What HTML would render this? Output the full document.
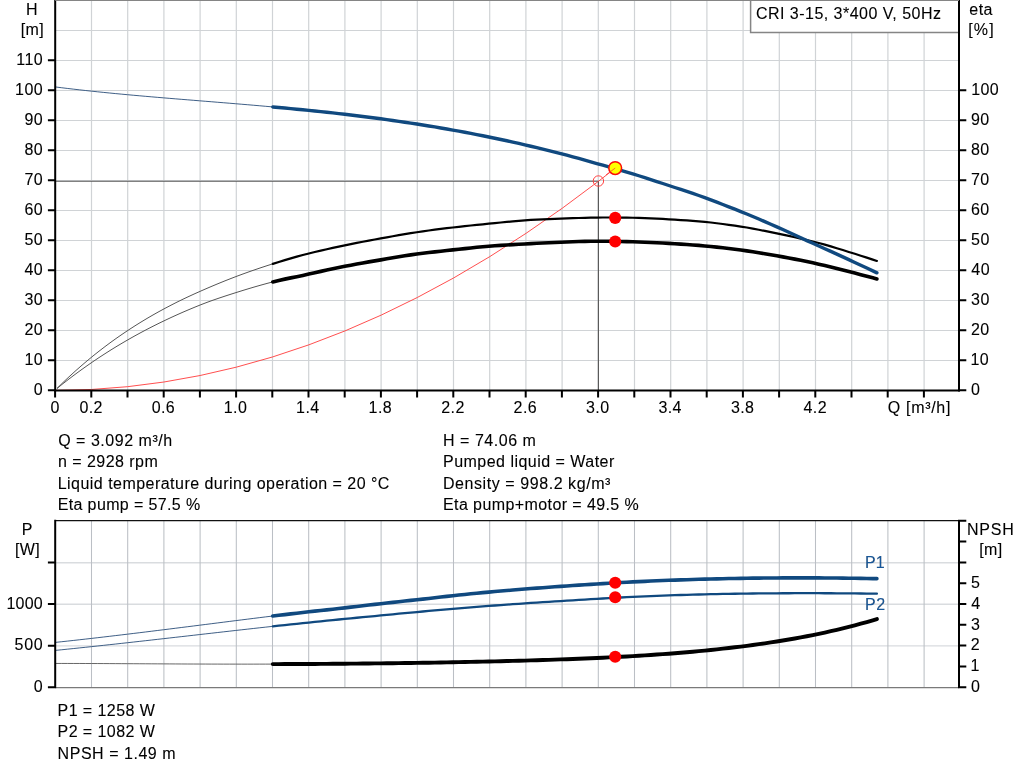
<!DOCTYPE html>
<html><head><meta charset="utf-8"><title>CRI 3-15 pump curve</title>
<style>
html,body{margin:0;padding:0;background:#fff;}
body{width:1024px;height:781px;overflow:hidden;}
text{stroke:#000;stroke-width:.1px}
svg{display:block;font-family:"Liberation Sans",sans-serif;font-size:16px;}
</style></head><body>
<svg width="1024" height="781" viewBox="0 0 1024 781">
<rect width="1024" height="781" fill="#fff"/>
<path d="M91.50 0V390.4M127.70 0V390.4M163.90 0V390.4M200.10 0V390.4M236.30 0V390.4M272.50 0V390.4M308.70 0V390.4M344.90 0V390.4M381.10 0V390.4M417.30 0V390.4M453.50 0V390.4M489.70 0V390.4M525.90 0V390.4M562.10 0V390.4M598.30 0V390.4M634.50 0V390.4M670.70 0V390.4M706.90 0V390.4M743.10 0V390.4M779.30 0V390.4M815.50 0V390.4M851.70 0V390.4M887.90 0V390.4M924.10 0V390.4M55.2 360.50H959.0M55.2 330.50H959.0M55.2 300.50H959.0M55.2 270.50H959.0M55.2 240.50H959.0M55.2 210.50H959.0M55.2 180.50H959.0M55.2 150.50H959.0M55.2 120.50H959.0M55.2 90.50H959.0M55.2 60.50H959.0M55.2 30.50H959.0" stroke="#d0d3d6" stroke-width="1.2" fill="none"/>
<path d="M55.2 181.2H598.4V390.4" fill="none" stroke="#585858" stroke-width="1.15"/>
<polyline points="55.2,390.40 91.5,389.47 127.7,386.68 163.9,382.03 200.1,375.53 236.3,367.16 272.6,356.94 308.8,344.85 345.0,330.91 381.2,315.11 417.4,297.45 453.7,277.93 489.9,256.55 526.1,233.31 562.3,208.21 598.5,181.26 615.2,168.23" fill="none" stroke="#ff3b3b" stroke-width="0.9"/>
<polyline points="57.0,388.42 63.0,382.53 69.0,376.84 75.0,371.35 81.0,366.05 87.0,360.93 93.0,355.98 99.0,351.21 105.0,346.60 111.0,342.14 117.0,337.84 123.0,333.69 129.0,329.68 135.0,325.81 141.0,322.07 147.0,318.45 153.0,314.96 159.0,311.59 165.0,308.33 171.0,305.19 177.0,302.14 183.0,299.20 189.0,296.36 195.0,293.61 201.0,290.95 207.0,288.34 213.0,285.78 219.0,283.28 225.0,280.83 231.0,278.47 237.0,276.18 243.0,273.96 249.0,271.81 255.0,269.71 261.0,267.67 267.0,265.70 272.8,263.85" fill="none" stroke="#555" stroke-width="1.0" stroke-linecap="butt" stroke-linejoin="round"/>
<polyline points="57.0,388.44 63.0,383.64 69.0,378.97 75.0,374.44 81.0,370.04 87.0,365.77 93.0,361.62 99.0,357.60 105.0,353.69 111.0,349.89 117.0,346.20 123.0,342.63 129.0,339.15 135.0,335.78 141.0,332.51 147.0,329.33 153.0,326.25 159.0,323.26 165.0,320.36 171.0,317.54 177.0,314.81 183.0,312.15 189.0,309.58 195.0,307.08 201.0,304.66 207.0,302.36 213.0,300.18 219.0,298.11 225.0,296.12 231.0,294.18 237.0,292.27 243.0,290.40 249.0,288.57 255.0,286.79 261.0,285.08 267.0,283.43 272.8,281.90" fill="none" stroke="#555" stroke-width="1.0" stroke-linecap="butt" stroke-linejoin="round"/>
<polyline points="272.8,263.85 278.8,261.98 284.8,260.15 290.8,258.38 296.8,256.66 302.8,255.03 308.8,253.47 314.8,251.99 320.8,250.57 326.8,249.20 332.8,247.87 338.8,246.58 344.8,245.32 350.8,244.09 356.8,242.90 362.8,241.74 368.8,240.61 374.8,239.50 380.8,238.40 386.8,237.31 392.8,236.24 398.8,235.19 404.8,234.17 410.8,233.18 416.8,232.23 422.8,231.33 428.8,230.49 434.8,229.69 440.8,228.94 446.8,228.21 452.8,227.50 458.8,226.81 464.8,226.15 470.8,225.52 476.8,224.91 482.8,224.31 488.8,223.70 494.8,223.08 500.8,222.48 506.8,221.90 512.8,221.34 518.8,220.82 524.8,220.33 530.8,219.92 536.8,219.60 542.8,219.35 548.8,219.14 554.8,218.93 560.8,218.69 566.8,218.43 572.8,218.19 578.8,217.99 584.8,217.82 590.8,217.69 596.8,217.59 602.8,217.52 608.8,217.49 614.8,217.50 620.8,217.54 626.8,217.62 632.8,217.74 638.8,217.90 644.8,218.10 650.8,218.33 656.8,218.61 662.8,218.93 668.8,219.29 674.8,219.67 680.8,220.04 686.8,220.42 692.8,220.82 698.8,221.30 704.8,221.86 710.8,222.52 716.8,223.23 722.8,223.99 728.8,224.79 734.8,225.64 740.8,226.54 746.8,227.49 752.8,228.56 758.8,229.71 764.8,230.92 770.8,232.15 776.8,233.40 782.8,234.63 788.8,235.91 794.8,237.23 800.8,238.60 806.8,240.01 812.8,241.47 818.8,243.00 824.8,244.64 830.8,246.39 836.8,248.21 842.8,250.07 848.8,251.95 854.8,253.82 860.8,255.72 866.8,257.65 872.8,259.61 876.9,260.97" fill="none" stroke="#000" stroke-width="2.2" stroke-linecap="round" stroke-linejoin="round"/>
<polyline points="272.8,281.90 278.8,280.45 284.8,279.13 290.8,277.88 296.8,276.66 302.8,275.42 308.8,274.09 314.8,272.72 320.8,271.37 326.8,270.05 332.8,268.77 338.8,267.52 344.8,266.32 350.8,265.16 356.8,264.03 362.8,262.95 368.8,261.89 374.8,260.86 380.8,259.85 386.8,258.84 392.8,257.80 398.8,256.77 404.8,255.78 410.8,254.85 416.8,254.02 422.8,253.27 428.8,252.54 434.8,251.84 440.8,251.17 446.8,250.52 452.8,249.90 458.8,249.28 464.8,248.62 470.8,247.96 476.8,247.33 482.8,246.74 488.8,246.22 494.8,245.78 500.8,245.36 506.8,244.97 512.8,244.60 518.8,244.26 524.8,243.94 530.8,243.64 536.8,243.32 542.8,243.01 548.8,242.71 554.8,242.43 560.8,242.18 566.8,241.96 572.8,241.74 578.8,241.55 584.8,241.39 590.8,241.28 596.8,241.23 602.8,241.25 608.8,241.30 614.8,241.38 620.8,241.49 626.8,241.62 632.8,241.79 638.8,241.98 644.8,242.21 650.8,242.46 656.8,242.75 662.8,243.07 668.8,243.42 674.8,243.79 680.8,244.16 686.8,244.55 692.8,244.96 698.8,245.41 704.8,245.93 710.8,246.52 716.8,247.15 722.8,247.81 728.8,248.51 734.8,249.25 740.8,250.02 746.8,250.85 752.8,251.75 758.8,252.71 764.8,253.72 770.8,254.76 776.8,255.81 782.8,256.88 788.8,257.98 794.8,259.13 800.8,260.32 806.8,261.56 812.8,262.84 818.8,264.16 824.8,265.53 830.8,266.95 836.8,268.42 842.8,269.93 848.8,271.49 854.8,273.09 860.8,274.67 866.8,276.25 872.8,277.85 876.9,278.96" fill="none" stroke="#000" stroke-width="3.6" stroke-linecap="round" stroke-linejoin="round"/>
<polyline points="55.2,86.92 61.2,87.68 67.2,88.41 73.2,89.12 79.2,89.80 85.2,90.47 91.2,91.12 97.2,91.75 103.2,92.36 109.2,92.96 115.2,93.55 121.2,94.12 127.2,94.68 133.2,95.22 139.2,95.76 145.2,96.29 151.2,96.81 157.2,97.32 163.2,97.82 169.2,98.32 175.2,98.82 181.2,99.31 187.2,99.79 193.2,100.28 199.2,100.77 205.2,101.25 211.2,101.73 217.2,102.22 223.2,102.71 229.2,103.20 235.2,103.70 241.2,104.20 247.2,104.70 253.2,105.21 259.2,105.73 265.2,106.26 271.2,106.79 272.8,106.94" fill="none" stroke="#3f5f86" stroke-width="1.0" stroke-linecap="butt" stroke-linejoin="round"/>
<polyline points="272.8,106.94 278.8,107.48 284.8,108.04 290.8,108.61 296.8,109.19 302.8,109.78 308.8,110.38 314.8,110.99 320.8,111.62 326.8,112.27 332.8,112.93 338.8,113.60 344.8,114.29 350.8,115.00 356.8,115.73 362.8,116.47 368.8,117.23 374.8,118.01 380.8,118.81 386.8,119.63 392.8,120.47 398.8,121.33 404.8,122.21 410.8,123.11 416.8,124.04 422.8,124.98 428.8,125.95 434.8,126.94 440.8,127.96 446.8,129.00 452.8,130.06 458.8,131.15 464.8,132.27 470.8,133.41 476.8,134.57 482.8,135.76 488.8,136.98 494.8,138.22 500.8,139.49 506.8,140.78 512.8,142.10 518.8,143.45 524.8,144.83 530.8,146.23 536.8,147.66 542.8,149.12 548.8,150.61 554.8,152.12 560.8,153.66 566.8,155.23 572.8,156.83 578.8,158.46 584.8,160.11 590.8,161.80 596.8,163.51 602.8,165.24 608.8,166.94 614.8,168.64 620.8,170.36 626.8,172.11 632.8,173.90 638.8,175.75 644.8,177.64 650.8,179.57 656.8,181.52 662.8,183.50 668.8,185.49 674.8,187.49 680.8,189.46 686.8,191.44 692.8,193.45 698.8,195.51 704.8,197.66 710.8,199.90 716.8,202.18 722.8,204.48 728.8,206.82 734.8,209.19 740.8,211.59 746.8,214.02 752.8,216.51 758.8,219.06 764.8,221.64 770.8,224.26 776.8,226.90 782.8,229.56 788.8,232.29 794.8,235.05 800.8,237.82 806.8,240.59 812.8,243.32 818.8,246.00 824.8,248.69 830.8,251.40 836.8,254.13 842.8,256.88 848.8,259.65 854.8,262.43 860.8,265.24 866.8,268.06 872.8,270.89 876.9,272.84" fill="none" stroke="#10497f" stroke-width="3.4" stroke-linecap="round" stroke-linejoin="round"/>
<circle cx="598.4" cy="181" r="5.2" fill="none" stroke="#ff3a3a" stroke-width="0.95"/>
<circle cx="615.2" cy="217.9" r="6.05" fill="#f00"/>
<circle cx="615.2" cy="241.5" r="6.05" fill="#f00"/>
<circle cx="615.2" cy="168.1" r="6.4" fill="#ffff00" stroke="#fb0a0a" stroke-width="1.5"/><path d="M606 174.9L615.2 168.1" stroke="#ff3b3b" stroke-width="0.8"/>
<path d="M54.2 390.5H960.0" stroke="#000" stroke-width="1.8"/>
<path d="M55.2 0V391.4M959.0 0V391.4M47.900000000000006 390.20H55.2M47.900000000000006 360.20H55.2M47.900000000000006 330.20H55.2M47.900000000000006 300.20H55.2M47.900000000000006 270.20H55.2M47.900000000000006 240.20H55.2M47.900000000000006 210.20H55.2M47.900000000000006 180.20H55.2M47.900000000000006 150.20H55.2M47.900000000000006 120.20H55.2M47.900000000000006 90.20H55.2M47.900000000000006 60.20H55.2M959.0 390.20H966.3M959.0 360.20H966.3M959.0 330.20H966.3M959.0 300.20H966.3M959.0 270.20H966.3M959.0 240.20H966.3M959.0 210.20H966.3M959.0 180.20H966.3M959.0 150.20H966.3M959.0 120.20H966.3M959.0 90.20H966.3M55.10 390.4V397.59999999999997M91.30 390.4V397.59999999999997M127.50 390.4V397.59999999999997M163.70 390.4V397.59999999999997M199.90 390.4V397.59999999999997M236.10 390.4V397.59999999999997M272.30 390.4V397.59999999999997M308.50 390.4V397.59999999999997M344.70 390.4V397.59999999999997M380.90 390.4V397.59999999999997M417.10 390.4V397.59999999999997M453.30 390.4V397.59999999999997M489.50 390.4V397.59999999999997M525.70 390.4V397.59999999999997M561.90 390.4V397.59999999999997M598.10 390.4V397.59999999999997M634.30 390.4V397.59999999999997M670.50 390.4V397.59999999999997M706.70 390.4V397.59999999999997M742.90 390.4V397.59999999999997M779.10 390.4V397.59999999999997M815.30 390.4V397.59999999999997M851.50 390.4V397.59999999999997M887.70 390.4V397.59999999999997M923.90 390.4V397.59999999999997" stroke="#000" stroke-width="2" fill="none"/>
<rect x="750.6" y="0" width="207.39999999999998" height="32.9" fill="#fff"/><path d="M750.6 0.5V32.4H958.0" fill="none" stroke="#858585" stroke-width="1.5"/>
<path d="M55.2 0.3H959.0" stroke="#858585" stroke-width="1.4"/>
<text x="756.00" y="18.75" letter-spacing="0.468">CRI 3-15, 3*400 V, 50Hz</text>
<text x="26.03" y="14.60" letter-spacing="0.350">H</text>
<text x="20.75" y="34.70" letter-spacing="0.350">[m]</text>
<text x="969.25" y="14.80" letter-spacing="0.500">eta</text>
<text x="968.20" y="34.50" letter-spacing="1.150">[%]</text>
<text x="33.70" y="394.80" letter-spacing="0.400">0</text>
<text x="24.40" y="364.80" letter-spacing="0.400">10</text>
<text x="24.40" y="334.80" letter-spacing="0.400">20</text>
<text x="24.40" y="304.80" letter-spacing="0.400">30</text>
<text x="24.40" y="274.80" letter-spacing="0.400">40</text>
<text x="24.40" y="244.80" letter-spacing="0.400">50</text>
<text x="24.40" y="214.80" letter-spacing="0.400">60</text>
<text x="24.40" y="184.80" letter-spacing="0.400">70</text>
<text x="24.40" y="154.80" letter-spacing="0.400">80</text>
<text x="24.40" y="124.80" letter-spacing="0.400">90</text>
<text x="15.10" y="94.80" letter-spacing="0.400">100</text>
<text x="16.30" y="64.80" letter-spacing="0.400">110</text>
<text x="971.10" y="394.80" letter-spacing="0.400">0</text>
<text x="970.50" y="364.80" letter-spacing="0.400">10</text>
<text x="970.90" y="334.80" letter-spacing="0.400">20</text>
<text x="971.10" y="304.80" letter-spacing="0.400">30</text>
<text x="971.35" y="274.80" letter-spacing="0.400">40</text>
<text x="971.10" y="244.80" letter-spacing="0.400">50</text>
<text x="970.90" y="214.80" letter-spacing="0.400">60</text>
<text x="970.90" y="184.80" letter-spacing="0.400">70</text>
<text x="971.05" y="154.80" letter-spacing="0.400">80</text>
<text x="970.95" y="124.80" letter-spacing="0.400">90</text>
<text x="971.20" y="94.80" letter-spacing="0.400">100</text>
<text x="50.55" y="412.70" letter-spacing="0.350">0</text>
<text x="79.38" y="412.70" letter-spacing="0.400">0.2</text>
<text x="151.73" y="412.70" letter-spacing="0.400">0.6</text>
<text x="223.78" y="412.70" letter-spacing="0.400">1.0</text>
<text x="296.10" y="412.70" letter-spacing="0.400">1.4</text>
<text x="368.60" y="412.70" letter-spacing="0.400">1.8</text>
<text x="441.28" y="412.70" letter-spacing="0.400">2.2</text>
<text x="513.62" y="412.70" letter-spacing="0.400">2.6</text>
<text x="586.07" y="412.70" letter-spacing="0.400">3.0</text>
<text x="658.40" y="412.70" letter-spacing="0.400">3.4</text>
<text x="730.90" y="412.70" letter-spacing="0.400">3.8</text>
<text x="803.50" y="412.70" letter-spacing="0.400">4.2</text>
<text x="887.75" y="412.90" letter-spacing="0.693">Q [m³/h]</text>
<text x="58.15" y="445.80" letter-spacing="0.531">Q = 3.092 m³/h</text>
<text x="57.95" y="467.00" letter-spacing="0.468">n = 2928 rpm</text>
<text x="57.70" y="489.00" letter-spacing="0.470">Liquid temperature during operation = 20 °C</text>
<text x="57.70" y="509.60" letter-spacing="0.369">Eta pump = 57.5 %</text>
<text x="443.00" y="445.80" letter-spacing="0.525">H = 74.06 m</text>
<text x="443.00" y="467.00" letter-spacing="0.480">Pumped liquid = Water</text>
<text x="443.00" y="489.00" letter-spacing="0.565">Density = 998.2 kg/m³</text>
<text x="443.00" y="509.60" letter-spacing="0.407">Eta pump+motor = 49.5 %</text>
<path d="M55.2 645.90H959.0M55.2 604.30H959.0M55.2 562.70H959.0" stroke="#d9dcdf" stroke-width="1.4" fill="none"/>
<path d="M91.50 520.4V687.3M127.70 520.4V687.3M163.90 520.4V687.3M200.10 520.4V687.3M236.30 520.4V687.3M272.50 520.4V687.3M308.70 520.4V687.3M344.90 520.4V687.3M381.10 520.4V687.3M417.30 520.4V687.3M453.50 520.4V687.3M489.70 520.4V687.3M525.90 520.4V687.3M562.10 520.4V687.3M598.30 520.4V687.3M634.50 520.4V687.3M670.70 520.4V687.3M706.90 520.4V687.3M743.10 520.4V687.3M779.30 520.4V687.3M815.50 520.4V687.3M851.70 520.4V687.3M887.90 520.4V687.3M924.10 520.4V687.3" stroke="#bbbfc5" stroke-width="1.05" fill="none"/>
<path d="M55.2 687.5999999999999H959.0" stroke="#7a7a7a" stroke-width="1.35"/>
<path d="M55.2 520.6H959.0" stroke="#111" stroke-width="1.3"/>
<polyline points="55.2,663.45 61.2,663.45 67.2,663.46 73.2,663.47 79.2,663.48 85.2,663.50 91.2,663.52 97.2,663.54 103.2,663.57 109.2,663.60 115.2,663.63 121.2,663.66 127.2,663.69 133.2,663.72 139.2,663.75 145.2,663.79 151.2,663.82 157.2,663.85 163.2,663.88 169.2,663.91 175.2,663.94 181.2,663.97 187.2,664.00 193.2,664.02 199.2,664.04 205.2,664.06 211.2,664.08 217.2,664.09 223.2,664.11 229.2,664.12 235.2,664.12 241.2,664.13 247.2,664.13 253.2,664.13 259.2,664.12 265.2,664.11 271.2,664.10 272.8,664.10" fill="none" stroke="#666" stroke-width="1.0" stroke-linecap="butt" stroke-linejoin="round"/>
<polyline points="55.2,642.42 61.2,641.78 67.2,641.13 73.2,640.47 79.2,639.80 85.2,639.13 91.2,638.44 97.2,637.75 103.2,637.06 109.2,636.35 115.2,635.64 121.2,634.93 127.2,634.21 133.2,633.48 139.2,632.75 145.2,632.02 151.2,631.28 157.2,630.53 163.2,629.79 169.2,629.04 175.2,628.29 181.2,627.53 187.2,626.78 193.2,626.02 199.2,625.26 205.2,624.50 211.2,623.74 217.2,622.98 223.2,622.22 229.2,621.46 235.2,620.70 241.2,619.94 247.2,619.19 253.2,618.44 259.2,617.69 265.2,616.95 271.2,616.22 272.8,616.02" fill="none" stroke="#3f5f86" stroke-width="1.0" stroke-linecap="butt" stroke-linejoin="round"/>
<polyline points="55.2,650.42 61.2,649.82 67.2,649.20 73.2,648.58 79.2,647.95 85.2,647.32 91.2,646.68 97.2,646.04 103.2,645.39 109.2,644.73 115.2,644.08 121.2,643.42 127.2,642.75 133.2,642.09 139.2,641.42 145.2,640.74 151.2,640.07 157.2,639.39 163.2,638.71 169.2,638.03 175.2,637.35 181.2,636.67 187.2,635.99 193.2,635.30 199.2,634.62 205.2,633.93 211.2,633.25 217.2,632.57 223.2,631.89 229.2,631.21 235.2,630.53 241.2,629.85 247.2,629.18 253.2,628.51 259.2,627.84 265.2,627.18 271.2,626.53 272.8,626.35" fill="none" stroke="#3f5f86" stroke-width="1.0" stroke-linecap="butt" stroke-linejoin="round"/>
<polyline points="272.8,664.10 278.8,664.08 284.8,664.07 290.8,664.04 296.8,664.02 302.8,663.99 308.8,663.96 314.8,663.93 320.8,663.89 326.8,663.85 332.8,663.81 338.8,663.76 344.8,663.71 350.8,663.66 356.8,663.60 362.8,663.54 368.8,663.48 374.8,663.42 380.8,663.35 386.8,663.28 392.8,663.20 398.8,663.12 404.8,663.04 410.8,662.95 416.8,662.86 422.8,662.77 428.8,662.68 434.8,662.58 440.8,662.47 446.8,662.37 452.8,662.26 458.8,662.14 464.8,662.02 470.8,661.90 476.8,661.77 482.8,661.64 488.8,661.50 494.8,661.36 500.8,661.22 506.8,661.06 512.8,660.91 518.8,660.74 524.8,660.58 530.8,660.40 536.8,660.22 542.8,660.03 548.8,659.84 554.8,659.63 560.8,659.42 566.8,659.21 572.8,658.98 578.8,658.74 584.8,658.49 590.8,658.23 596.8,657.97 602.8,657.68 608.8,657.39 614.8,657.09 620.8,656.77 626.8,656.44 632.8,656.09 638.8,655.73 644.8,655.36 650.8,654.97 656.8,654.56 662.8,654.14 668.8,653.69 674.8,653.23 680.8,652.75 686.8,652.24 692.8,651.71 698.8,651.15 704.8,650.57 710.8,649.97 716.8,649.34 722.8,648.68 728.8,648.00 734.8,647.30 740.8,646.57 746.8,645.81 752.8,645.02 758.8,644.19 764.8,643.34 770.8,642.44 776.8,641.51 782.8,640.54 788.8,639.53 794.8,638.48 800.8,637.39 806.8,636.25 812.8,635.07 818.8,633.83 824.8,632.55 830.8,631.22 836.8,629.83 842.8,628.40 848.8,626.90 854.8,625.34 860.8,623.73 866.8,622.05 872.8,620.31 876.9,619.08" fill="none" stroke="#000" stroke-width="3.9" stroke-linecap="round" stroke-linejoin="round"/>
<polyline points="272.8,616.02 278.8,615.30 284.8,614.59 290.8,613.89 296.8,613.19 302.8,612.51 308.8,611.83 314.8,611.16 320.8,610.51 326.8,609.87 332.8,609.22 338.8,608.56 344.8,607.87 350.8,607.16 356.8,606.45 362.8,605.76 368.8,605.06 374.8,604.38 380.8,603.70 386.8,603.02 392.8,602.35 398.8,601.69 404.8,601.04 410.8,600.39 416.8,599.75 422.8,599.10 428.8,598.42 434.8,597.72 440.8,597.02 446.8,596.34 452.8,595.68 458.8,595.05 464.8,594.43 470.8,593.82 476.8,593.23 482.8,592.65 488.8,592.10 494.8,591.57 500.8,591.05 506.8,590.54 512.8,590.04 518.8,589.54 524.8,589.06 530.8,588.58 536.8,588.12 542.8,587.67 548.8,587.22 554.8,586.79 560.8,586.37 566.8,585.95 572.8,585.54 578.8,585.13 584.8,584.73 590.8,584.34 596.8,583.95 602.8,583.58 608.8,583.22 614.8,582.87 620.8,582.53 626.8,582.21 632.8,581.90 638.8,581.61 644.8,581.33 650.8,581.06 656.8,580.80 662.8,580.56 668.8,580.32 674.8,580.09 680.8,579.88 686.8,579.68 692.8,579.48 698.8,579.30 704.8,579.13 710.8,578.97 716.8,578.83 722.8,578.69 728.8,578.56 734.8,578.44 740.8,578.34 746.8,578.24 752.8,578.16 758.8,578.09 764.8,578.02 770.8,577.97 776.8,577.93 782.8,577.89 788.8,577.87 794.8,577.86 800.8,577.86 806.8,577.87 812.8,577.88 818.8,577.91 824.8,577.95 830.8,578.00 836.8,578.05 842.8,578.12 848.8,578.19 854.8,578.28 860.8,578.37 866.8,578.47 872.8,578.58 876.9,578.66" fill="none" stroke="#10497f" stroke-width="3.6" stroke-linecap="round" stroke-linejoin="round"/>
<polyline points="272.8,626.35 278.8,625.70 284.8,625.06 290.8,624.43 296.8,623.80 302.8,623.18 308.8,622.56 314.8,621.94 320.8,621.32 326.8,620.72 332.8,620.11 338.8,619.51 344.8,618.91 350.8,618.33 356.8,617.75 362.8,617.19 368.8,616.62 374.8,616.04 380.8,615.46 386.8,614.87 392.8,614.29 398.8,613.72 404.8,613.15 410.8,612.59 416.8,612.03 422.8,611.48 428.8,610.94 434.8,610.41 440.8,609.89 446.8,609.37 452.8,608.86 458.8,608.35 464.8,607.86 470.8,607.37 476.8,606.89 482.8,606.42 488.8,605.96 494.8,605.51 500.8,605.06 506.8,604.62 512.8,604.20 518.8,603.78 524.8,603.36 530.8,602.96 536.8,602.57 542.8,602.18 548.8,601.81 554.8,601.44 560.8,601.08 566.8,600.72 572.8,600.35 578.8,599.96 584.8,599.57 590.8,599.20 596.8,598.83 602.8,598.49 608.8,598.16 614.8,597.83 620.8,597.51 626.8,597.21 632.8,596.91 638.8,596.62 644.8,596.35 650.8,596.09 656.8,595.84 662.8,595.61 668.8,595.40 674.8,595.20 680.8,595.01 686.8,594.83 692.8,594.66 698.8,594.50 704.8,594.35 710.8,594.21 716.8,594.08 722.8,593.96 728.8,593.85 734.8,593.75 740.8,593.65 746.8,593.57 752.8,593.50 758.8,593.44 764.8,593.38 770.8,593.33 776.8,593.29 782.8,593.26 788.8,593.23 794.8,593.21 800.8,593.20 806.8,593.20 812.8,593.21 818.8,593.22 824.8,593.24 830.8,593.26 836.8,593.29 842.8,593.33 848.8,593.37 854.8,593.43 860.8,593.48 866.8,593.55 872.8,593.61 876.9,593.66" fill="none" stroke="#10497f" stroke-width="2.3" stroke-linecap="round" stroke-linejoin="round"/>
<circle cx="615.2" cy="582.7" r="6.05" fill="#f00"/>
<circle cx="615.2" cy="597.3" r="6.05" fill="#f00"/>
<circle cx="615.2" cy="656.8" r="6.05" fill="#f00"/>
<path d="M55.2 519.8V688.3M47.900000000000006 687.30H55.2M47.900000000000006 645.70H55.2M47.900000000000006 604.10H55.2M47.900000000000006 562.50H55.2" stroke="#000" stroke-width="2" fill="none"/>
<path d="M959.0 519.8V688.3M959.0 687.20H966.3M959.0 666.40H966.3M959.0 645.60H966.3M959.0 624.80H966.3M959.0 604.00H966.3M959.0 583.20H966.3M959.0 562.40H966.3M959.0 541.60H966.3M959.0 520.80H966.3" stroke="#000" stroke-width="2" fill="none"/>
<text x="21.78" y="534.80" letter-spacing="0.350">P</text>
<text x="14.95" y="554.70" letter-spacing="0.350">[W]</text>
<text x="33.70" y="691.80" letter-spacing="0.350">0</text>
<text x="14.60" y="650.30" letter-spacing="0.650">500</text>
<text x="6.50" y="608.60" letter-spacing="0.167">1000</text>
<text x="971.00" y="691.90" letter-spacing="0.350">0</text>
<text x="970.40" y="671.10" letter-spacing="0.350">1</text>
<text x="970.80" y="650.30" letter-spacing="0.350">2</text>
<text x="971.00" y="629.50" letter-spacing="0.350">3</text>
<text x="971.25" y="608.70" letter-spacing="0.350">4</text>
<text x="971.00" y="587.90" letter-spacing="0.350">5</text>
<text x="967.00" y="534.70" letter-spacing="0.783">NPSH</text>
<text x="979.25" y="554.80" letter-spacing="0.350">[m]</text>
<text x="864.90" y="567.60" letter-spacing="0.100" fill="#17579a" stroke="#17579a">P1</text>
<text x="864.90" y="609.90" letter-spacing="0.750" fill="#17579a" stroke="#17579a">P2</text>
<text x="57.60" y="715.80" letter-spacing="0.420">P1 = 1258 W</text>
<text x="57.60" y="737.30" letter-spacing="0.420">P2 = 1082 W</text>
<text x="57.60" y="758.50" letter-spacing="0.529">NPSH = 1.49 m</text>
</svg>
</body></html>
